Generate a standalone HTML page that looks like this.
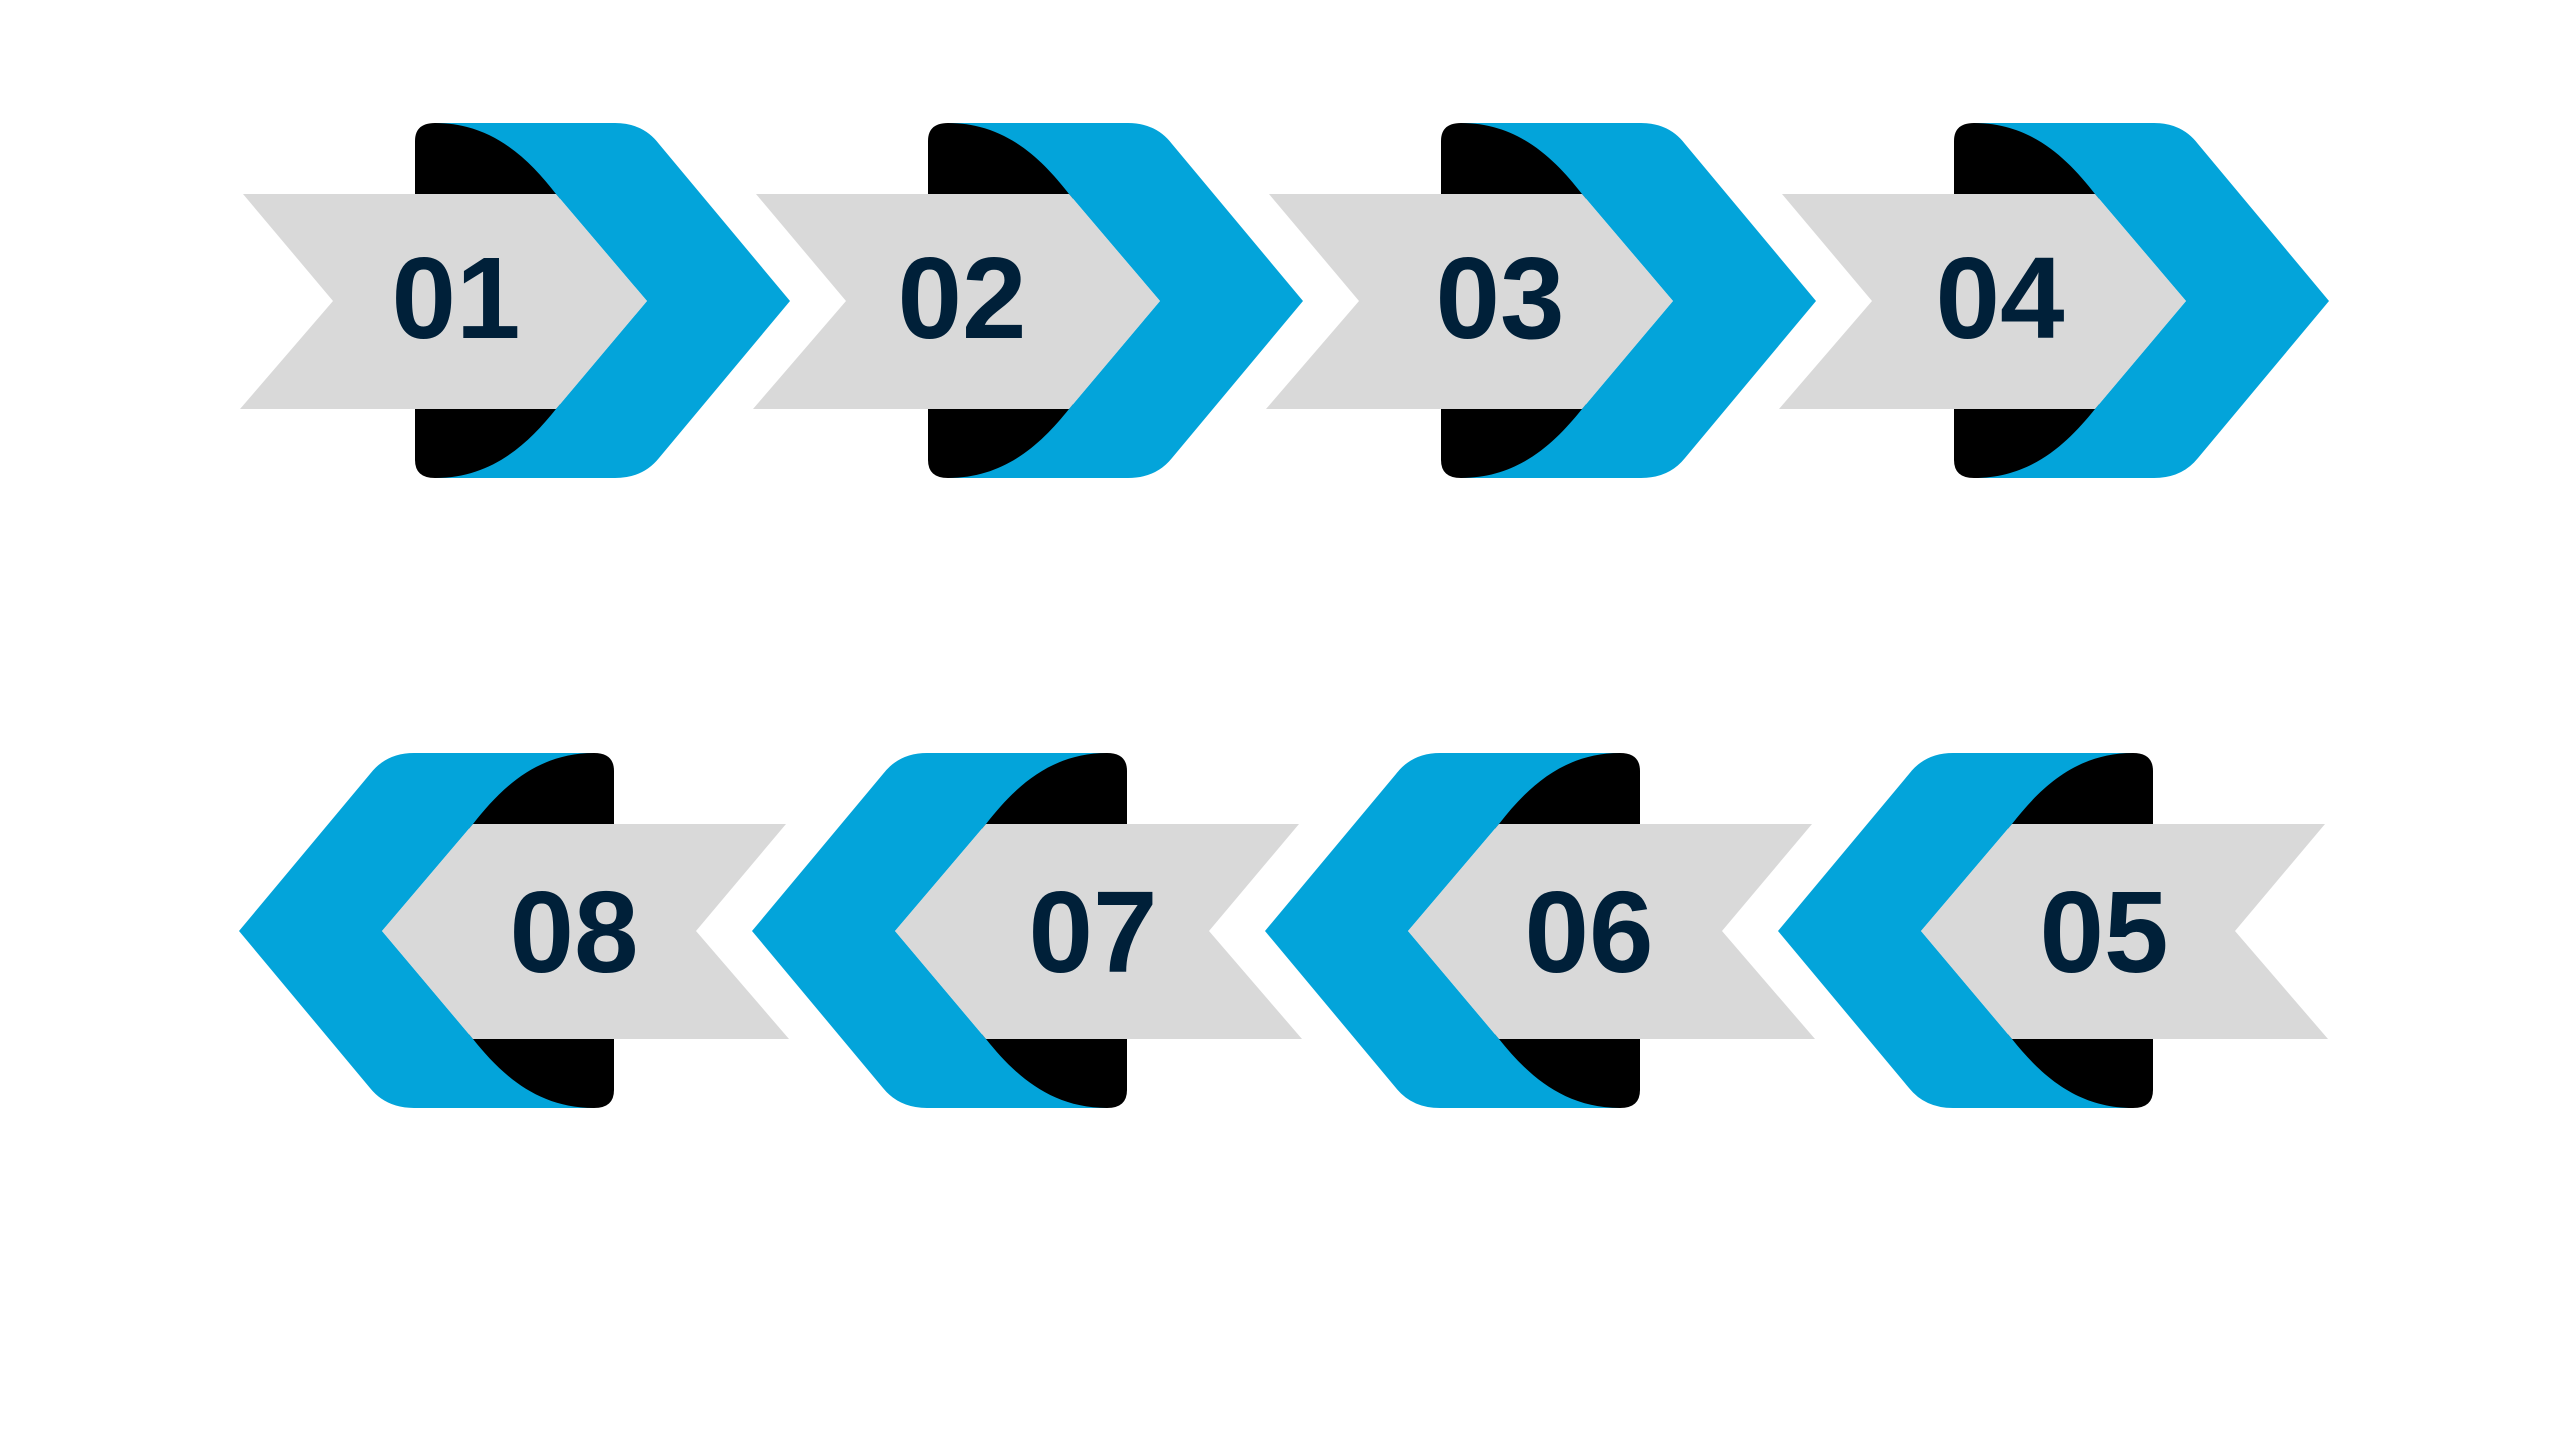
<!DOCTYPE html>
<html><head><meta charset="utf-8"><style>html,body{margin:0;padding:0;background:#fff}svg{display:block}</style></head>
<body>
<svg width="2560" height="1440" viewBox="0 0 2560 1440" xmlns="http://www.w3.org/2000/svg">
<defs>
<g id="item">
<path d="M435 123 L560 123 L560 478 L435 478 Q415 478 415 460 L415 141 Q415 123 435 123 Z" fill="#000"/>
<path d="M435 123 L615 123 Q643 123 659 144 L790 301 L659 458 Q643 478 615 478 L435 478 C492 478 528 444 556 409 L647 301 L556 194 C528 158 492 123 435 123 Z" fill="#03a4da"/>
<path d="M243 194 L556 194 L647 301 L556 409 L240 409 L333 301 Z" fill="#d9d9d9"/>
</g>
</defs>
<use href="#item" transform="translate(0,0)"/>
<use href="#item" transform="translate(513,0)"/>
<use href="#item" transform="translate(1026,0)"/>
<use href="#item" transform="translate(1539,0)"/>
<use href="#item" transform="translate(1029,630) scale(-1,1)"/>
<use href="#item" transform="translate(1542,630) scale(-1,1)"/>
<use href="#item" transform="translate(2055,630) scale(-1,1)"/>
<use href="#item" transform="translate(2568,630) scale(-1,1)"/>
<g font-family="Liberation Sans, Arial, sans-serif" font-weight="bold" font-size="116" fill="#002039" text-anchor="middle">
<text x="456" y="338">01</text>
<text x="962" y="338">02</text>
<text x="1500" y="338">03</text>
<text x="2000" y="338">04</text>
<text x="574" y="972">08</text>
<text x="1093" y="972">07</text>
<text x="1589" y="972">06</text>
<text x="2104" y="972">05</text>
</g>
</svg>
</body></html>
